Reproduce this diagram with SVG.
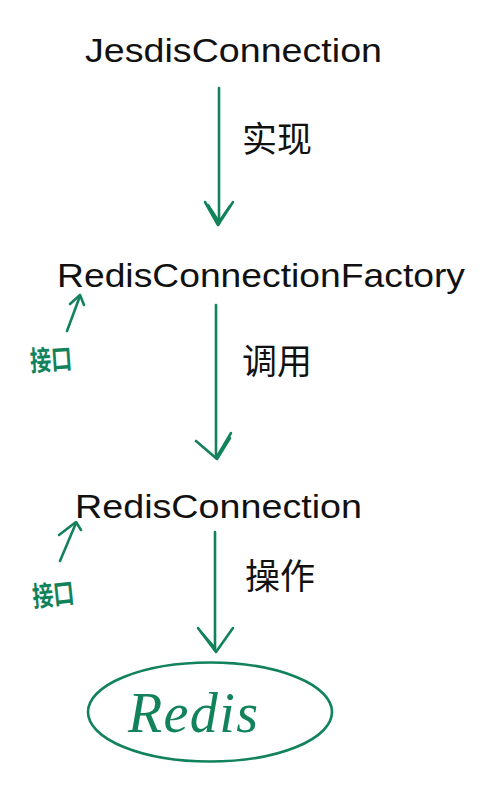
<svg xmlns="http://www.w3.org/2000/svg" width="496" height="785" viewBox="0 0 496 785">
<style>
.lbl{font-family:"Liberation Sans",Arial,sans-serif;font-size:33px;fill:#111}
.cn{font-family:"Noto Sans CJK SC",sans-serif;font-size:35px;fill:#111}
.hw{fill:none;stroke:#12825a;stroke-width:2.6;stroke-linecap:round;stroke-linejoin:round}
.note{font-family:"Noto Sans CJK SC",sans-serif;font-size:28px;font-weight:bold;fill:#12825a}
</style>
<rect width="496" height="785" fill="#fff"/>
<g id="connectors">
  <g id="arrow1">
    <path class="hw" d="M219 88 L219 224"/>
    <path class="hw" d="M205 202 L218 225 L233 202"/>
    <path class="hw" d="M208 205 L219 222 L230 206" stroke-width="1.6"/>
  </g>
  <g id="arrow2">
    <path class="hw" d="M216 305 L216 458"/>
    <path class="hw" d="M196 441 L217 459 L230 438"/>
    <path class="hw" d="M218 455 L231 433" stroke-width="1.8"/>
  </g>
  <g id="arrow3">
    <path class="hw" d="M215 532 L215 650"/>
    <path class="hw" d="M198 628 L216 652 L233 628"/>
    <path class="hw" d="M201 632 L215 648" stroke-width="1.6"/>
  </g>
  <g id="label1"><text class="cn" x="242" y="152">实现</text></g>
  <g id="label2"><text class="cn" x="242" y="374">调用</text></g>
  <g id="label3"><text class="cn" x="245" y="589">操作</text></g>
</g>
<g id="node-jesdis">
  <text class="lbl" x="85" y="62" textLength="297" lengthAdjust="spacingAndGlyphs">JesdisConnection</text>
</g>
<g id="node-factory">
  <text class="lbl" x="57" y="287" textLength="408" lengthAdjust="spacingAndGlyphs">RedisConnectionFactory</text>
  <g id="note1">
    <path class="hw" d="M67 331 L80 296" stroke-width="1.8"/>
    <path class="hw" d="M70 304 L80 295 L84 305" stroke-width="1.8"/>
    <text class="note" x="30" y="370" textLength="42" lengthAdjust="spacingAndGlyphs" transform="rotate(-4 50 360)">接口</text>
  </g>
</g>
<g id="node-connection">
  <text class="lbl" x="75" y="518" textLength="287" lengthAdjust="spacingAndGlyphs">RedisConnection</text>
  <g id="note2">
    <path class="hw" d="M60 561 L76 523" stroke-width="1.8"/>
    <path class="hw" d="M59 535 L76 522 L81 530" stroke-width="1.8"/>
    <text class="note" x="32" y="605" textLength="42" lengthAdjust="spacingAndGlyphs" transform="rotate(-6 52 592)">接口</text>
  </g>
</g>
<g id="node-redis">
  <ellipse class="hw" cx="210" cy="712" rx="122" ry="49.5"/>
  <text x="128" y="732" font-family="'Liberation Serif',serif" font-style="italic" font-size="56" fill="#12825a" textLength="130" lengthAdjust="spacing">Redis</text>
</g>
</svg>
